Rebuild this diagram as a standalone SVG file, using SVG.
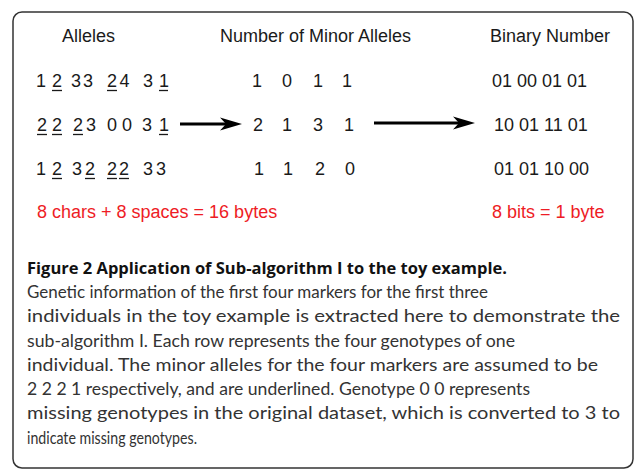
<svg xmlns="http://www.w3.org/2000/svg" width="634" height="470" viewBox="0 0 634 470">
<style>
.d{font-family:"Liberation Sans",Arial,sans-serif;font-size:18px;fill:#1a1a1a}
.r{font-family:"Liberation Sans",Arial,sans-serif;font-size:18px;fill:#ee1c25}
.u{stroke:#1a1a1a;stroke-width:1.3}
.cap{font-family:Lato,"Open Sans",sans-serif;font-size:17.5px;fill:#333}
.capb{font-family:"Open Sans","Noto Sans",sans-serif;font-size:16.5px;font-weight:bold;fill:#111}
.arr{stroke:#000;stroke-width:3;fill:none}
</style>
<defs>
<marker id="ah" markerUnits="userSpaceOnUse" markerWidth="24" markerHeight="14" refX="6" refY="6.5" orient="auto" overflow="visible">
<path d="M22,6.5 L0,0 L6,6.5 L0,13 Z" fill="#000"/>
</marker>
</defs>
<rect id="frame" x="13" y="12" width="620" height="456" rx="9" ry="9" fill="none" stroke="#333" stroke-width="1.5"/>
<g id="headers">
<text class="d" x="62" y="42">Alleles</text>
<text class="d" x="220" y="42">Number of Minor Alleles</text>
<text class="d" x="490" y="42">Binary Number</text>
</g>
<g id="alleles">
<text class="d" x="36 52 71 83 107 119.5 143 159" y="87">12332431</text>
<text class="d" x="37 52 73 86 107 122 142 159" y="131">22230031</text>
<text class="d" x="36 52 72 85 107 119 143 156" y="175">12322233</text>
<line class="u" x1="52" y1="90.5" x2="62" y2="90.5"/>
<line class="u" x1="107" y1="90.5" x2="117" y2="90.5"/>
<line class="u" x1="159" y1="90.5" x2="168" y2="90.5"/>
<line class="u" x1="37" y1="134.5" x2="47" y2="134.5"/>
<line class="u" x1="52" y1="134.5" x2="62" y2="134.5"/>
<line class="u" x1="73" y1="134.5" x2="83" y2="134.5"/>
<line class="u" x1="159" y1="134.5" x2="168" y2="134.5"/>
<line class="u" x1="52" y1="178.5" x2="62" y2="178.5"/>
<line class="u" x1="85" y1="178.5" x2="95" y2="178.5"/>
<line class="u" x1="107" y1="178.5" x2="117" y2="178.5"/>
<line class="u" x1="119" y1="178.5" x2="129" y2="178.5"/>
</g>
<g id="minor" text-anchor="middle">
<text class="d" x="257 287 318 347" y="87">1011</text>
<text class="d" x="258 287 318 349" y="131">2131</text>
<text class="d" x="259 288 320 350" y="175">1120</text>
</g>
<g id="binary">
<text class="d" x="492" y="87">01 00 01 01</text>
<text class="d" x="494" y="131">10 01 11 01</text>
<text class="d" x="494" y="175">01 01 10 00</text>
</g>
<g id="notes">
<text class="r" x="37" y="218">8 chars + 8 spaces = 16 bytes</text>
<text class="r" x="492" y="218">8 bits = 1 byte</text>
</g>
<g id="connectors">
<line class="arr" x1="180" y1="124" x2="226" y2="124" marker-end="url(#ah)"/>
<line class="arr" x1="374" y1="123" x2="459" y2="123" marker-end="url(#ah)"/>
</g>
<g id="caption">
<text class="capb" x="27" y="274" textLength="480" lengthAdjust="spacingAndGlyphs">Figure 2 Application of Sub-algorithm I to the toy example.</text>
<text class="cap" x="27" y="298" textLength="461" lengthAdjust="spacingAndGlyphs">Genetic information of the first four markers for the first three</text>
<text class="cap" x="27" y="322" textLength="593" lengthAdjust="spacingAndGlyphs">individuals in the toy example is extracted here to demonstrate the</text>
<text class="cap" x="27" y="346.5" textLength="488" lengthAdjust="spacingAndGlyphs">sub-algorithm I. Each row represents the four genotypes of one</text>
<text class="cap" x="27" y="370.5" textLength="571" lengthAdjust="spacingAndGlyphs">individual. The minor alleles for the four markers are assumed to be</text>
<text class="cap" x="27" y="395" textLength="503" lengthAdjust="spacingAndGlyphs">2 2 2 1 respectively, and are underlined. Genotype 0 0 represents</text>
<text class="cap" x="27" y="419" textLength="593" lengthAdjust="spacingAndGlyphs">missing genotypes in the original dataset, which is converted to 3 to</text>
<text class="cap" x="27" y="443.5" textLength="170" lengthAdjust="spacingAndGlyphs">indicate missing genotypes.</text>
</g>
</svg>
